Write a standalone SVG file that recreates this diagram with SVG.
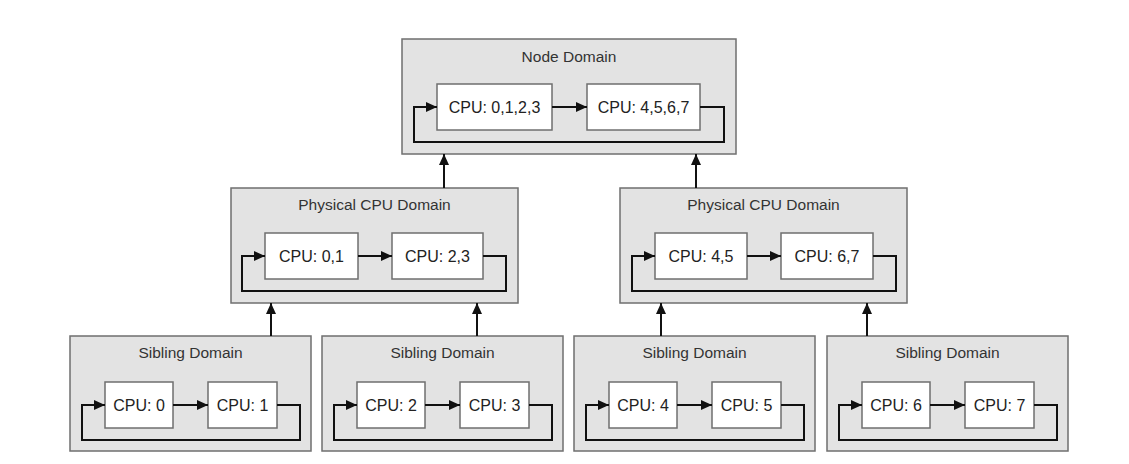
<svg xmlns="http://www.w3.org/2000/svg" width="1129" height="464" viewBox="0 0 1129 464">
<style>
.dom{fill:#e3e3e3;stroke:#6f6f6f;stroke-width:1.5}
.cpu{fill:#ffffff;stroke:#6f6f6f;stroke-width:1.5}
.t{font-family:"Liberation Sans",Arial,sans-serif;font-size:15.5px;fill:#333333;text-anchor:middle}
.c{font-family:"Liberation Sans",Arial,sans-serif;font-size:16px;fill:#222222;text-anchor:middle}
.ln{fill:none;stroke:#111111;stroke-width:2}
.ar{fill:none;stroke:#111111;stroke-width:2;marker-end:url(#ah)}
</style>
<defs>
<marker id="ah" markerUnits="userSpaceOnUse" markerWidth="12" markerHeight="11" refX="11" refY="5" orient="auto">
<path d="M0,0 L11,5 L0,10 z" fill="#111111"/>
</marker>
</defs>
<rect width="1129" height="464" fill="#ffffff"/>

<g id="node-domain">
<rect class="dom" x="402" y="39" width="334" height="115"/>
<text class="t" x="569" y="62">Node Domain</text>
<rect class="cpu" x="437" y="84" width="115" height="46"/>
<text class="c" x="494.5" y="113">CPU: 0,1,2,3</text>
<rect class="cpu" x="587" y="84" width="113" height="46"/>
<text class="c" x="643.5" y="113">CPU: 4,5,6,7</text>
</g>

<g id="phys-1">
<rect class="dom" x="231" y="188" width="287" height="115"/>
<text class="t" x="374.5" y="210">Physical CPU Domain</text>
<rect class="cpu" x="265" y="233" width="93" height="46"/>
<text class="c" x="311.5" y="262">CPU: 0,1</text>
<rect class="cpu" x="392" y="233" width="91" height="46"/>
<text class="c" x="437.5" y="262">CPU: 2,3</text>
</g>

<g id="phys-2">
<rect class="dom" x="620" y="188" width="287" height="115"/>
<text class="t" x="763.5" y="210">Physical CPU Domain</text>
<rect class="cpu" x="655" y="233" width="92" height="46"/>
<text class="c" x="701" y="262">CPU: 4,5</text>
<rect class="cpu" x="781" y="233" width="92" height="46"/>
<text class="c" x="827" y="262">CPU: 6,7</text>
</g>

<g id="sib-1">
<rect class="dom" x="70" y="336" width="241" height="115"/>
<text class="t" x="190.5" y="358">Sibling Domain</text>
<rect class="cpu" x="105" y="382" width="68" height="46"/>
<text class="c" x="139" y="411">CPU: 0</text>
<rect class="cpu" x="208" y="382" width="69" height="46"/>
<text class="c" x="242.5" y="411">CPU: 1</text>
</g>

<g id="sib-2">
<rect class="dom" x="322" y="336" width="241" height="115"/>
<text class="t" x="442.5" y="358">Sibling Domain</text>
<rect class="cpu" x="357" y="382" width="68" height="46"/>
<text class="c" x="391" y="411">CPU: 2</text>
<rect class="cpu" x="460" y="382" width="69" height="46"/>
<text class="c" x="494.5" y="411">CPU: 3</text>
</g>

<g id="sib-3">
<rect class="dom" x="574" y="336" width="241" height="115"/>
<text class="t" x="694.5" y="358">Sibling Domain</text>
<rect class="cpu" x="609" y="382" width="68" height="46"/>
<text class="c" x="643" y="411">CPU: 4</text>
<rect class="cpu" x="712" y="382" width="69" height="46"/>
<text class="c" x="746.5" y="411">CPU: 5</text>
</g>

<g id="sib-4">
<rect class="dom" x="827" y="336" width="241" height="115"/>
<text class="t" x="947.5" y="358">Sibling Domain</text>
<rect class="cpu" x="862" y="382" width="68" height="46"/>
<text class="c" x="896" y="411">CPU: 6</text>
<rect class="cpu" x="965" y="382" width="69" height="46"/>
<text class="c" x="999.5" y="411">CPU: 7</text>
</g>

<g id="connectors">
<path class="ar" d="M552,107 H587"/>
<path class="ar" d="M700,107 H724 V142 H414 V107 H437"/>
<path class="ar" d="M358,256 H392"/>
<path class="ar" d="M483,256 H506 V291 H242 V256 H265"/>
<path class="ar" d="M747,256 H781"/>
<path class="ar" d="M873,256 H896 V291 H632 V256 H655"/>
<path class="ar" d="M173,405 H208"/>
<path class="ar" d="M277,405 H300 V440 H82 V405 H105"/>
<path class="ar" d="M425,405 H460"/>
<path class="ar" d="M529,405 H552 V440 H334 V405 H357"/>
<path class="ar" d="M677,405 H712"/>
<path class="ar" d="M781,405 H804 V440 H586 V405 H609"/>
<path class="ar" d="M930,405 H965"/>
<path class="ar" d="M1034,405 H1057 V440 H839 V405 H862"/>
<path class="ar" d="M444,188 V154"/>
<path class="ar" d="M696,188 V154"/>
<path class="ar" d="M271,336 V303"/>
<path class="ar" d="M477,336 V303"/>
<path class="ar" d="M661,336 V303"/>
<path class="ar" d="M867,336 V303"/>
</g>
</svg>
